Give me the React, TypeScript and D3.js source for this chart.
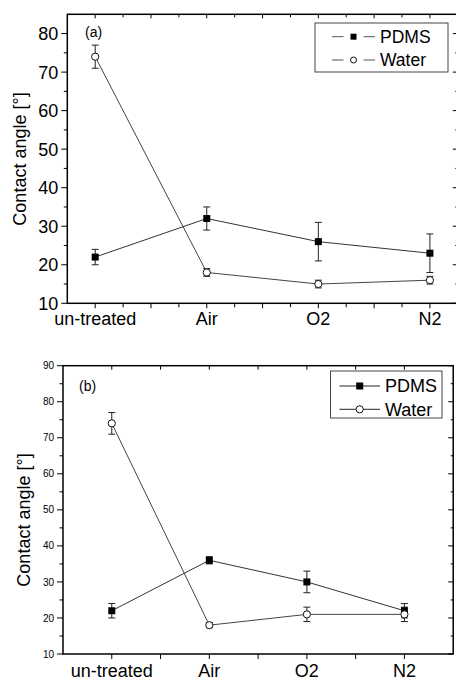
import React from "react";
import * as d3 from "d3";

const categories = ["un-treated", "Air", "O2", "N2"];
const pdmsA = [22, 32, 26, 23];
const pdmsErrA = [2, 3, 5, 5];
const waterA = [74, 18, 15, 16];
const waterErrA = [3, 1, 1, 1];
const pdmsB = [22, 36, 30, 22];
const pdmsErrB = [2, 1, 3, 2];
const waterB = [74, 18, 21, 21];
const waterErrB = [3, 0.7, 2, 2];
const yTicksA = [10, 20, 30, 40, 50, 60, 70, 80];
const yTicksB = [10, 20, 30, 40, 50, 60, 70, 80, 90];
const seriesNames = ["PDMS", "Water"];

const FONT = "'Liberation Sans', Arial, sans-serif";

type PanelCfg = {
  xDomain: [number, number];
  xRange: [number, number];
  yDomain: [number, number];
  yRange: [number, number];
  xMinorStep: number;
  yTicks: number[];
  yTickFont: number;
  pdms: number[];
  pdmsErr: number[];
  water: number[];
  waterErr: number[];
  tag: string;
  tagPos: [number, number];
  titleY: number;
  titleX: number;
  xLabelY: number;
  legend: { x: number; y: number; w: number; h: number; lineX0: number; lineX1: number; markX: number; gap: boolean; textX: number; rowY: [number, number]; font: number };
};

function Panel({ c }: { c: PanelCfg }) {
  const x = d3.scaleLinear().domain(c.xDomain).range(c.xRange);
  const y = d3.scaleLinear().domain(c.yDomain).range(c.yRange);
  const [x0, x1] = c.xRange;
  const [yb, yt] = c.yRange;
  const xTickVals = d3.range(c.xDomain[0], c.xDomain[1] + 1e-9, c.xMinorStep).filter(v => v > c.xDomain[0] + 1e-9 && v < c.xDomain[1] - 1e-9);
  const yMinor = d3.range(c.yDomain[0], c.yDomain[1] + 1e-9, 5).filter(v => v > c.yDomain[0] && v < c.yDomain[1]);
  const idx = categories.map((_, i) => i + 1);
  const line = d3.line<number>().x((_, i) => x(idx[i])).y(v => y(v));
  const sq = 7;
  const cap = 3.5;
  const errBars = (vals: number[], errs: number[], key: string) =>
    vals.map((v, i) => {
      const cx = x(idx[i]);
      const top = y(v + errs[i]);
      const bot = y(v - errs[i]);
      return (
        <g key={key + i} stroke="#222" strokeWidth={1}>
          <line x1={cx} x2={cx} y1={top} y2={bot} />
          <line x1={cx - cap} x2={cx + cap} y1={top} y2={top} />
          <line x1={cx - cap} x2={cx + cap} y1={bot} y2={bot} />
        </g>
      );
    });
  const L = c.legend;
  return (
    <g>
      {/* data lines */}
      <path d={line(c.pdms) || ""} fill="none" stroke="#333" strokeWidth={1} />
      <path d={line(c.water) || ""} fill="none" stroke="#444" strokeWidth={1} />
      {errBars(c.pdms, c.pdmsErr, "pe")}
      {errBars(c.water, c.waterErr, "we")}
      {c.pdms.map((v, i) => (
        <rect key={"ps" + i} x={x(idx[i]) - sq / 2} y={y(v) - sq / 2} width={sq} height={sq} fill="#000" />
      ))}
      {c.water.map((v, i) => (
        <circle key={"wc" + i} cx={x(idx[i])} cy={y(v)} r={3.6} fill="#fff" stroke="#111" strokeWidth={1} />
      ))}
      {/* frame */}
      <rect x={x0} y={yt} width={x1 - x0} height={yb - yt} fill="none" stroke="#000" strokeWidth={1.5} />
      {/* x ticks */}
      {xTickVals.map((v, i) => {
        const major = Math.abs(v * 2 - Math.round(v * 2)) < 1e-6;
        const len = major ? 5 : 4;
        return (
          <g key={"xt" + i} stroke="#000" strokeWidth={1}>
            <line x1={x(v)} x2={x(v)} y1={yb} y2={yb + len} />
            <line x1={x(v)} x2={x(v)} y1={yt} y2={yt + len - 1} />
          </g>
        );
      })}
      {categories.map((cat, i) => (
        <text key={"xl" + i} x={x(idx[i])} y={c.xLabelY} textAnchor="middle" fontFamily={FONT} fontSize={18} fill="#000">
          {cat}
        </text>
      ))}
      {/* y ticks */}
      {c.yTicks.map((v, i) => (
        <g key={"yt" + i}>
          <line x1={x0 - 6} x2={x0} y1={y(v)} y2={y(v)} stroke="#000" strokeWidth={1} />
          <line x1={x1 - 5} x2={x1} y1={y(v)} y2={y(v)} stroke="#000" strokeWidth={1} />
          <text x={x0 - 9} y={y(v)} dy="0.36em" textAnchor="end" fontFamily={FONT} fontSize={c.yTickFont} fill="#000">
            {v}
          </text>
        </g>
      ))}
      {yMinor.filter(v => !c.yTicks.includes(v)).map((v, i) => (
        <g key={"ym" + i} stroke="#000" strokeWidth={1}>
          <line x1={x0 - 3.5} x2={x0} y1={y(v)} y2={y(v)} />
          <line x1={x1 - 2.5} x2={x1} y1={y(v)} y2={y(v)} />
        </g>
      ))}
      {c.yDomain[1] % 10 !== 0 ? null : null}
      <text
        transform={`translate(${c.titleX},${c.titleY}) rotate(-90)`}
        textAnchor="middle"
        dy="0.35em"
        fontFamily={FONT}
        fontSize={18}
        fill="#000"
      >
        Contact angle [°]
      </text>
      <text x={c.tagPos[0]} y={c.tagPos[1]} fontFamily={FONT} fontSize={14} fill="#000">
        {c.tag}
      </text>
      {/* legend */}
      <rect x={L.x} y={L.y} width={L.w} height={L.h} fill="#fff" stroke="#444" strokeWidth={1} />
      {seriesNames.map((name, i) => {
        const ry = L.rowY[i];
        return (
          <g key={"lg" + i}>
            {L.gap ? (
              <>
                <line x1={L.lineX0} x2={L.markX - 10} y1={ry} y2={ry} stroke="#555" strokeWidth={1} />
                <line x1={L.markX + 10} x2={L.lineX1} y1={ry} y2={ry} stroke="#555" strokeWidth={1} />
              </>
            ) : (
              <line x1={L.lineX0} x2={L.lineX1} y1={ry} y2={ry} stroke="#222" strokeWidth={1} />
            )}
            {i === 0 ? (
              <rect x={L.markX - (L.gap ? 3 : 3.5)} y={ry - (L.gap ? 3 : 3.5)} width={L.gap ? 6 : 7} height={L.gap ? 6 : 7} fill="#000" />
            ) : (
              <circle cx={L.markX} cy={ry} r={L.gap ? 3 : 3.6} fill="#fff" stroke="#111" strokeWidth={1} />
            )}
            <text x={L.textX} y={ry} dy="0.36em" fontFamily={FONT} fontSize={L.font} fill="#000">
              {name}
            </text>
          </g>
        );
      })}
    </g>
  );
}

const panelA: PanelCfg = {
  xDomain: [0.75, 4.25],
  xRange: [67.3, 457.8],
  yDomain: [10, 85],
  yRange: [303.3, 14.3],
  xMinorStep: 0.25,
  yTicks: yTicksA,
  yTickFont: 18,
  pdms: pdmsA,
  pdmsErr: pdmsErrA,
  water: waterA,
  waterErr: waterErrA,
  tag: "(a)",
  tagPos: [85, 37],
  titleX: 20,
  titleY: 159,
  xLabelY: 325,
  legend: { x: 315, y: 23, w: 133, h: 49, lineX0: 332, lineX1: 375, markX: 353.5, gap: true, textX: 380, rowY: [36.7, 60], font: 17.5 },
};

const panelB: PanelCfg = {
  xDomain: [0.5, 4.5],
  xRange: [63, 453.2],
  yDomain: [10, 90],
  yRange: [654, 365.7],
  xMinorStep: 0.5,
  yTicks: yTicksB,
  yTickFont: 10,
  pdms: pdmsB,
  pdmsErr: pdmsErrB,
  water: waterB,
  waterErr: waterErrB,
  tag: "(b)",
  tagPos: [79, 391],
  titleX: 24,
  titleY: 520,
  xLabelY: 677,
  legend: { x: 330.5, y: 371, w: 111.5, h: 47, lineX0: 339.5, lineX1: 380, markX: 359.7, gap: false, textX: 385, rowY: [386, 409.3], font: 18 },
};

export default function App() {
  return (
    <svg width={456} height={680} style={{ position: "absolute", left: 0, top: 0, background: "#fff" }}>
      <rect width={456} height={680} fill="#fff" />
      <Panel c={panelA} />
      <Panel c={panelB} />
    </svg>
  );
}
